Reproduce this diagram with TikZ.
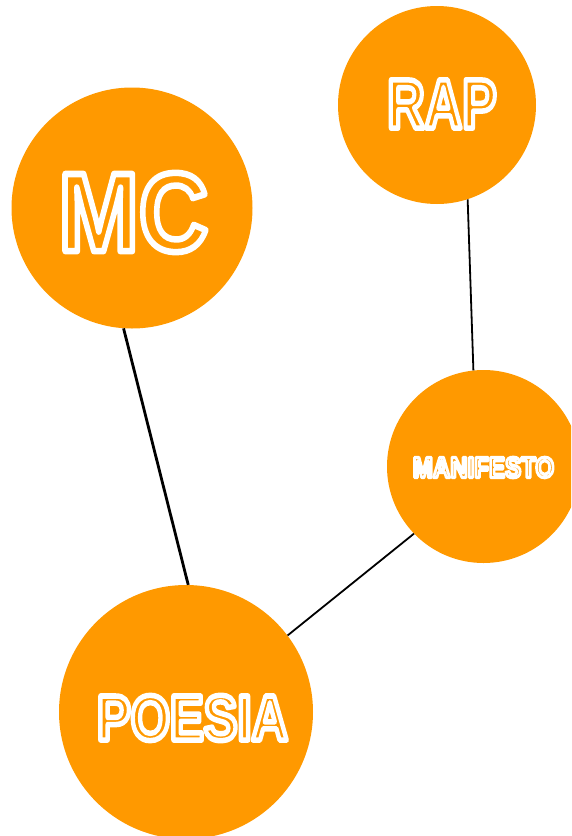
\documentclass[tikz,border=0pt]{standalone}
\usepackage{fontspec}
\setmainfont{Liberation Sans}
\usepackage{graphicx}

\definecolor{bubblefill}{HTML}{FF9900}

% Hollow lettering: glyphs are stroked (text render mode 1), not filled.
% #1 = stroke width, #2 = font size, #3 = horizontal squeeze, #4 = text
\newcommand\hollowword[4]{%
  \scalebox{#3}[1]{{\fontsize{#2}{#2}\selectfont\bfseries
    \special{pdf:literal direct 1 Tr #1 w 1 j 1 1 1 RG}#4\special{pdf:literal direct 0 Tr}}}}

\tikzset{
  bubble/.style={circle, fill=bubblefill, draw=none, inner sep=0pt, minimum size=#1},
  word/.style={inner sep=0pt, text=white},
  link/.style={draw=black, line width=1.8pt},
}

\begin{document}
\begin{tikzpicture}[x=1pt, y=-1pt]
  \useasboundingbox (0,0) rectangle (571,836);
  \clip (0,0) rectangle (571,836);

  % circles
  \node[bubble=241pt] (mc)        at (132,208)   {};
  \node[bubble=198pt] (rap)       at (437,105)   {};
  \node[bubble=193pt] (manifesto) at (483.5,466.5) {};
  \node[bubble=254pt] (poesia)    at (186,712)   {};

  % connections
  \draw[link, line width=2.8pt] (mc.266.2) -- (poesia.89);
  \draw[link] (rap.288.4) -- (manifesto.96.9);
  \draw[link] (manifesto.224.2) -- (poesia.37.3);

  % labels
  \node[word] (mc-text)        at (133.5,212.5) {\hollowword{6.5}{112}{0.86}{MC}};
  \node[word] (rap-text)       at (442,104)     {\hollowword{5.5}{70}{0.74}{RAP}};
  \node[word] (manifesto-text) at (483.5,467.5) {\hollowword{3.2}{29}{0.83}{MANIFESTO}};
  \node[word] (poesia-text)    at (192.5,718)   {\hollowword{5.5}{64}{0.79}{POESIA}};
\end{tikzpicture}
\end{document}
